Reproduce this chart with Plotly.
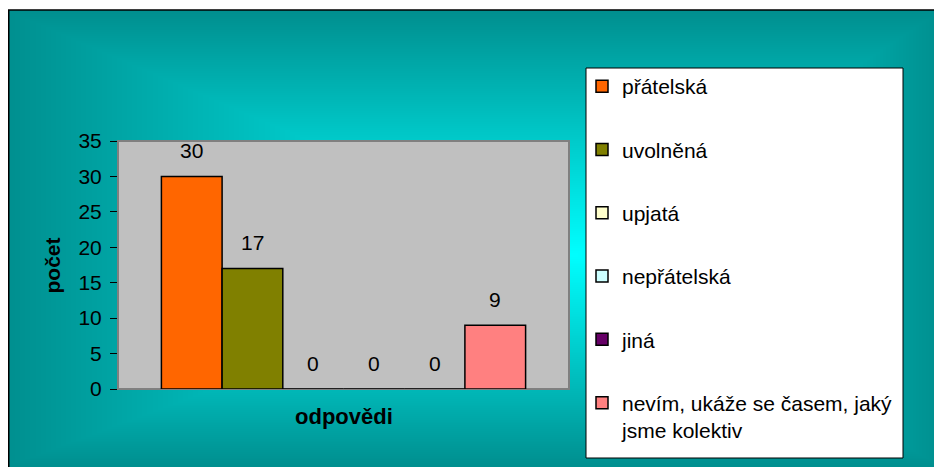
import base64
import struct
import zlib

import numpy as np
import plotly.graph_objects as go

# ---- data ----
series_names = ["přátelská", "uvolněná", "upjatá", "nepřátelská", "jiná",
                "nevím, ukáže se časem, jaký<br>jsme kolektiv"]
series_values = [30, 17, 0, 0, 0, 9]
series_colors = ["#FF6600", "#808000", "#FFFFCC", "#CCFFFF", "#660066", "#FF8080"]
y_tick_values = [0, 5, 10, 15, 20, 25, 30, 35]

# page body has an 8px margin; size the figure so it fits the 942x467 window
OFF = 8
FIG_W, FIG_H = 942 - OFF, 467 - OFF


def sx(p):
    """screen x pixel -> paper fraction"""
    return (p - OFF) / FIG_W


def sy(p):
    """screen y pixel -> paper fraction"""
    return 1 - (p - OFF) / FIG_H


# ---- gradient background as PNG ----
def gradient_png():
    left, top, right, bottom = OFF, 10, 942, 467
    W, H = right - left, bottom - top
    xs = np.arange(W) + left + 0.5
    ys = np.arange(H) + top + 0.5
    cx, cy = 575, 255
    u = np.where(xs < cx, (cx - xs) / (cx - 5), (xs - cx) / (right - cx))
    v = np.where(ys < cy, (cy - ys) / (cy - top), (ys - cy) / (bottom - cy))
    t = np.clip(np.maximum(u[None, :], v[:, None]), 0, 1)
    edge = np.array([0, 143, 143], dtype=float)
    center = np.array([0, 255, 255], dtype=float)
    img = edge[None, None, :] + (center - edge)[None, None, :] * (1 - t)[:, :, None]
    img = np.clip(img, 0, 255).astype(np.uint8)
    raw = b"".join(b"\x00" + img[r].tobytes() for r in range(H))

    def chunk(tag, data):
        c = struct.pack(">I", len(data)) + tag + data
        return c + struct.pack(">I", zlib.crc32(tag + data) & 0xFFFFFFFF)

    png = b"\x89PNG\r\n\x1a\n"
    png += chunk(b"IHDR", struct.pack(">IIBBBBB", W, H, 8, 2, 0, 0, 0))
    png += chunk(b"IDAT", zlib.compress(raw, 9))
    png += chunk(b"IEND", b"")
    return "data:image/png;base64," + base64.b64encode(png).decode(), (left, top, W, H)


img_src, (gl, gt, gw, gh) = gradient_png()

FONT = "Liberation Sans, Arial, sans-serif"

fig = go.Figure()
for i, (name, val, col) in enumerate(zip(series_names, series_values, series_colors)):
    fig.add_trace(go.Bar(
        x=[i], y=[val], width=1, name=name, legendgroup=f"g{i}",
        marker=dict(color=col, line=dict(color="black", width=1.5)),
        hoverinfo="name+y",
    ))
    fig.add_annotation(
        x=i, y=val, xref="x", yref="y", text=str(val), showarrow=False,
        yanchor="middle", yshift=26, font=dict(family=FONT, size=21, color="black"),
    )

# plot area (screen px)
x0, x1 = 118, 569
y0, y1 = 141, 389

fig.update_layout(
    width=FIG_W, height=FIG_H,
    margin=dict(l=0, r=0, t=0, b=0),
    paper_bgcolor="white",
    plot_bgcolor="#C0C0C0",
    barmode="overlay",
    font=dict(family=FONT, size=21, color="black"),
    xaxis=dict(domain=[sx(x0), sx(x1)], range=[-1.215, 6.215],
               showticklabels=False, ticks="", showgrid=False, zeroline=False,
               showline=False, automargin=False, fixedrange=True),
    yaxis=dict(domain=[sy(y1), sy(y0)], range=[0, 35], tickvals=y_tick_values,
               ticks="outside", ticklen=7, tickwidth=1, tickcolor="black",
               ticklabelstandoff=4,
               showgrid=False, zeroline=False, showline=False, automargin=False,
               tickfont=dict(family=FONT, size=21), fixedrange=True),
    showlegend=True,
    legend=dict(
        x=sx(582), y=sy(66), xanchor="left", yanchor="top",
        bgcolor="rgba(0,0,0,0)", borderwidth=0,
        font=dict(family=FONT, size=21, color="black"),
        tracegroupgap=33, traceorder="grouped", valign="top",
    ),
    images=[dict(source=img_src, xref="paper", yref="paper",
                 x=sx(gl), y=sy(gt), sizex=gw / FIG_W, sizey=gh / FIG_H,
                 xanchor="left", yanchor="top", sizing="stretch", layer="below")],
    shapes=[
        # outer border
        dict(type="rect", xref="paper", yref="paper", x0=sx(OFF + 0.75), x1=sx(990),
             y0=sy(520), y1=sy(10), line=dict(color="black", width=1.5),
             fillcolor="rgba(0,0,0,0)", layer="above"),
        # plot area: grey fill and border
        dict(type="rect", xref="x domain", yref="y domain", x0=0, x1=1, y0=0, y1=1,
             line=dict(color="#808080", width=2), fillcolor="#C0C0C0", layer="below"),
        # legend box
        dict(type="rect", xref="paper", yref="paper", x0=sx(586), x1=sx(903),
             y0=sy(458), y1=sy(68), line=dict(color="black", width=1),
             fillcolor="white", layer="above"),
    ],
)

fig.add_annotation(text="<b>odpovědi</b>", xref="paper", yref="paper",
                   x=sx(344), y=sy(431), showarrow=False,
                   font=dict(family=FONT, size=22, color="black"))
fig.add_annotation(text="<b>počet</b>", xref="paper", yref="paper",
                   x=sx(38), y=sy(266), showarrow=False, textangle=-90,
                   font=dict(family=FONT, size=21, color="black"))

fig.write_html("out.html")
